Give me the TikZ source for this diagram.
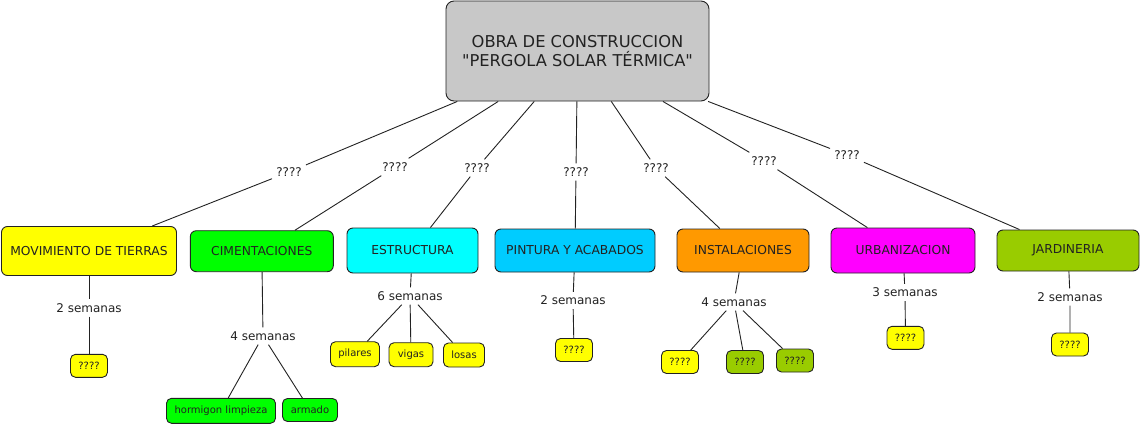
\documentclass[tikz,border=0pt]{standalone}
\usepackage{fontspec}
\setmainfont{DejaVu Sans}
\definecolor{rootgrey}{HTML}{C8C8C8}
\definecolor{cyel}{HTML}{FFFF00}
\definecolor{cgreen}{HTML}{00FF00}
\definecolor{ccyan}{HTML}{00FFFF}
\definecolor{csky}{HTML}{00CCFF}
\definecolor{corange}{HTML}{FF9900}
\definecolor{cmag}{HTML}{FF00FF}
\definecolor{colive}{HTML}{99CC00}
\definecolor{ink}{HTML}{222222}
\begin{document}
\begin{tikzpicture}[x=1pt,y=-1pt,
  box/.style={draw=ink, rounded corners=6pt, line width=0.9pt, text=ink,
    font=\fontsize{12.3}{14}\selectfont, inner sep=2pt},
  sbox/.style={draw=ink, rounded corners=5pt, line width=0.9pt, text=ink,
    font=\fontsize{10}{12}\selectfont, inner sep=2pt, minimum height=23pt},
  lab/.style={font=\fontsize{12}{14}\selectfont, inner sep=4pt, text=ink},
  conn/.style={draw=ink, line width=0.9pt}]
\useasboundingbox (0,0) rectangle (1141,426);

% root
\node[box, fill=rootgrey, minimum width=263pt, minimum height=100pt, rounded corners=8pt,
  font=\fontsize{16.3}{19}\selectfont, align=center] (root) at (577.5,51)
  {OBRA DE CONSTRUCCION\\\textquotedbl PERGOLA SOLAR TÉRMICA\textquotedbl};

% main boxes
\node[box, fill=cyel, minimum width=175pt, minimum height=49pt] (m1) at (89,251) {MOVIMIENTO DE TIERRAS};
\node[box, fill=cgreen, minimum width=143pt, minimum height=41pt] (m2) at (261.8,251.2) {CIMENTACIONES};
\node[box, fill=ccyan, minimum width=131pt, minimum height=45pt] (m3) at (412.5,250.5) {ESTRUCTURA};
\node[box, fill=csky, minimum width=160pt, minimum height=43pt] (m4) at (575,250.5) {PINTURA Y ACABADOS};
\node[box, fill=corange, minimum width=132pt, minimum height=43pt] (m5) at (743,250.5) {INSTALACIONES};
\node[box, fill=cmag, minimum width=144pt, minimum height=45pt] (m6) at (903,250.5) {URBANIZACION};
\node[box, fill=colive, minimum width=142pt, minimum height=41pt] (m7) at (1068,250.5) {JARDINERIA};

% link labels from root
\node[lab] (q1) at (289,172) {????};
\node[lab] (q2) at (395,167) {????};
\node[lab] (q3) at (477,168) {????};
\node[lab] (q4) at (576,172) {????};
\node[lab] (q5) at (656,168) {????};
\node[lab] (q6) at (764,161) {????};
\node[lab] (q7) at (847,155) {????};

% duration labels
\node[lab] (d1) at (89,308) {2 semanas};
\node[lab] (d2) at (263,336) {4 semanas};
\node[lab] (d3) at (410,296) {6 semanas};
\node[lab] (d4) at (573,300.5) {2 semanas};
\node[lab] (d5) at (734,302) {4 semanas};
\node[lab] (d6) at (905,292.5) {3 semanas};
\node[lab] (d7) at (1070,297) {2 semanas};

% small boxes
\node[sbox, fill=cyel, minimum width=37pt] (s1) at (89,365.8) {????};
\node[sbox, fill=cgreen, minimum width=109pt, minimum height=25pt] (s2) at (221,410.8) {hormigon limpieza};
\node[sbox, fill=cgreen, minimum width=55pt] (s3) at (310,410) {armado};
\node[sbox, fill=cyel, minimum width=49pt, minimum height=25pt] (s4) at (355,354.2) {pilares};
\node[sbox, fill=cyel, minimum width=44pt, minimum height=24pt] (s5) at (411,354.7) {vigas};
\node[sbox, fill=cyel, minimum width=41pt, minimum height=24pt] (s6) at (464,355) {losas};
\node[sbox, fill=cyel, minimum width=37pt] (s7) at (574,350) {????};
\node[sbox, fill=cyel, minimum width=37pt] (s8) at (680,362) {????};
\node[sbox, fill=colive, minimum width=37pt] (s9) at (745,362) {????};
\node[sbox, fill=colive, minimum width=37pt] (s10) at (795,360.5) {????};
\node[sbox, fill=cyel, minimum width=37pt] (s11) at (905.5,337.8) {????};
\node[sbox, fill=cyel, minimum width=37pt] (s12) at (1070,344.5) {????};

% connectors root -> labels -> main boxes
\draw[conn] (root) -- (q1) -- (m1);
\draw[conn] (root) -- (q2) -- (m2);
\draw[conn] (root) -- (q3) -- (m3);
\draw[conn] (root) -- (q4) -- (m4);
\draw[conn] (root) -- (q5) -- (m5);
\draw[conn] (root) -- (q6) -- (m6);
\draw[conn] (root) -- (q7) -- (m7);

% main boxes -> durations -> children
\draw[conn] (m1) -- (d1) -- (s1);
\draw[conn] (m2) -- (d2);
\draw[conn] (d2) -- (s2);
\draw[conn] (d2) -- (s3);
\draw[conn] (m3) -- (d3);
\draw[conn] (d3) -- (s4);
\draw[conn] (d3) -- (s5);
\draw[conn] (d3) -- (s6);
\draw[conn] (m4) -- (d4) -- (s7);
\draw[conn] (m5) -- (d5);
\draw[conn] (d5) -- (s8);
\draw[conn] (d5) -- (s9);
\draw[conn] (d5) -- (s10);
\draw[conn] (m6) -- (d6) -- (s11);
\draw[conn] (m7) -- (d7) -- (s12);
\end{tikzpicture}
\end{document}
